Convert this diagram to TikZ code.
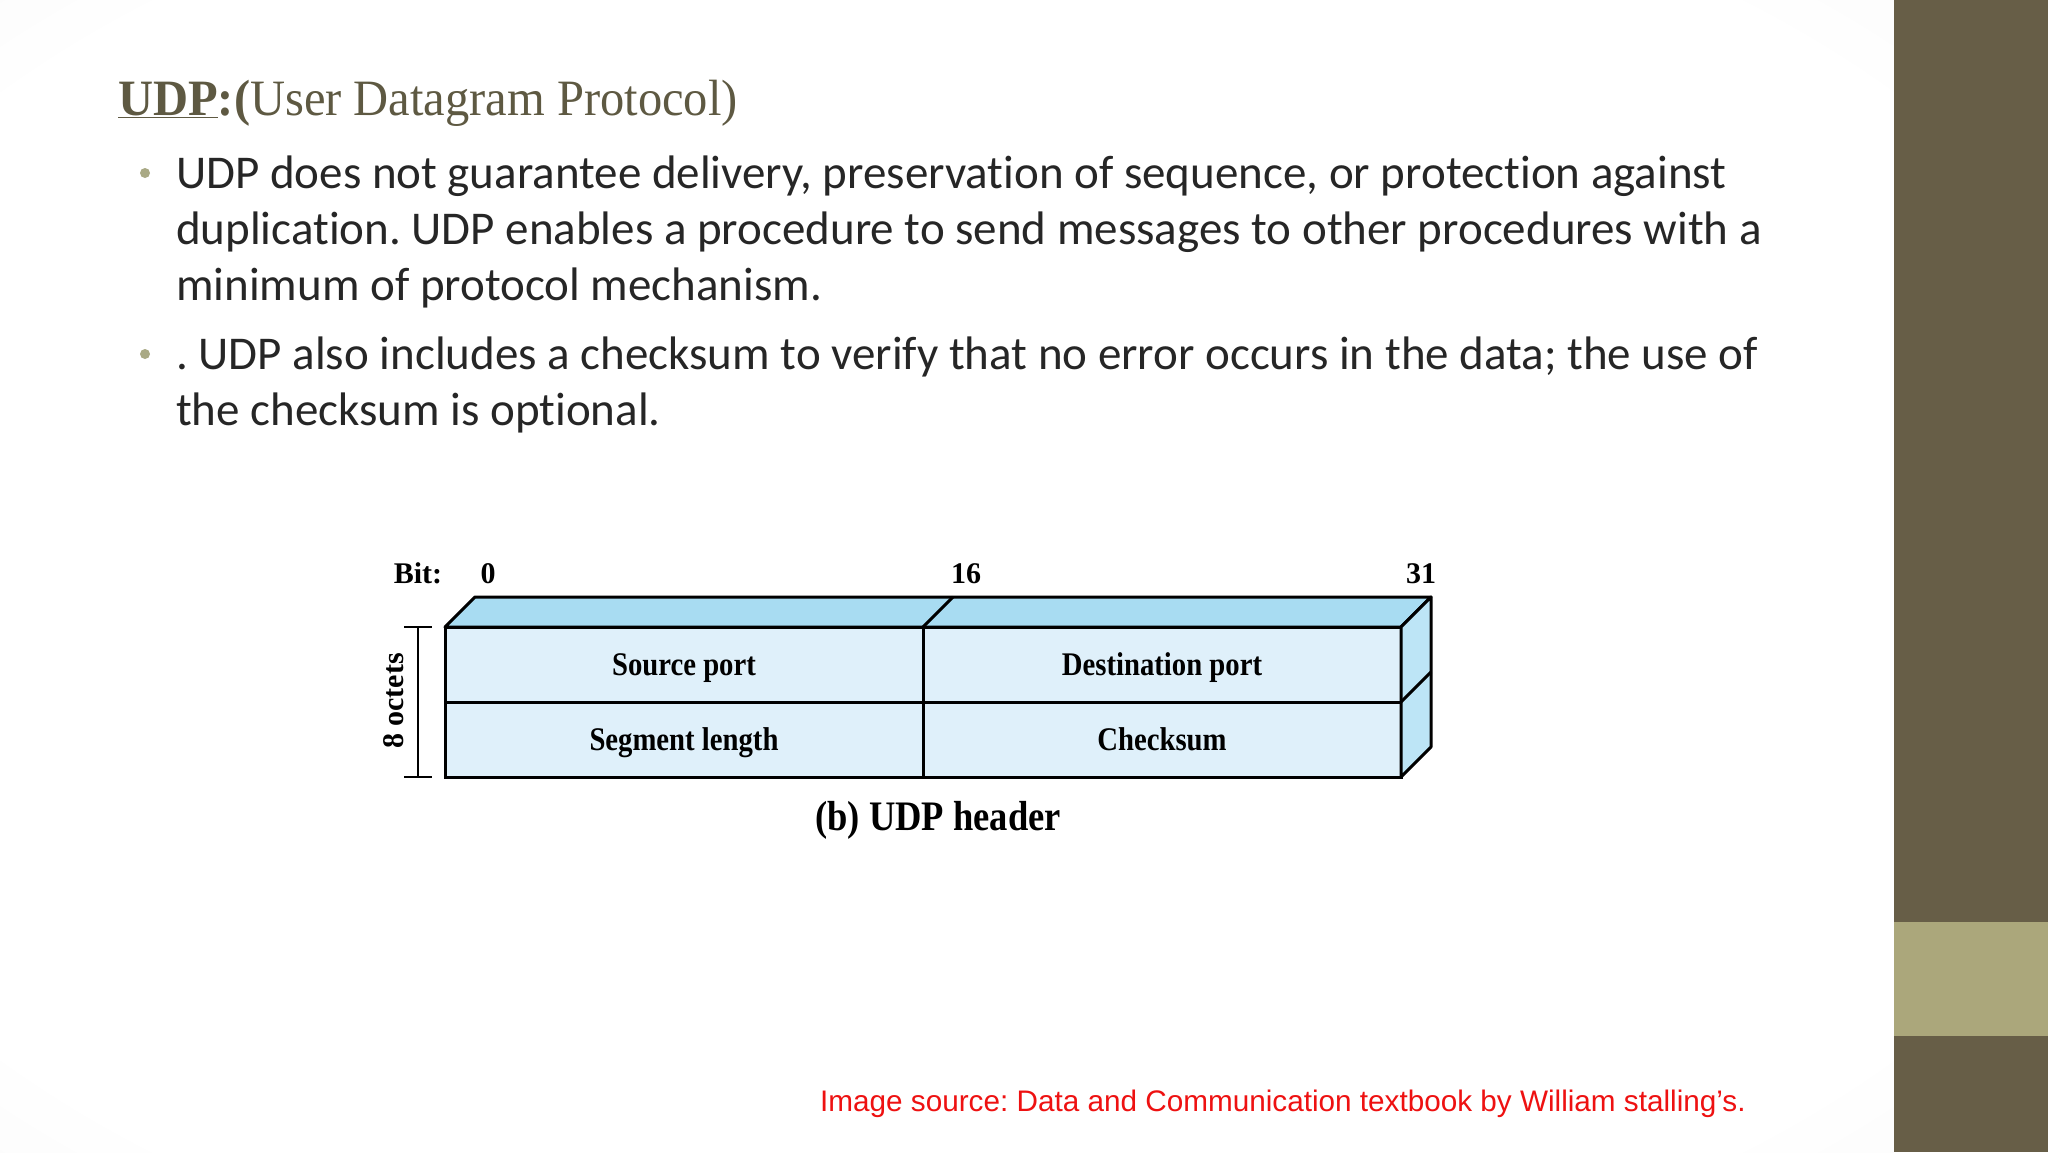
\documentclass[tikz,border=0pt]{standalone}
\usepackage{fontspec}
\setmainfont{Liberation Serif}
\newfontfamily\bodyfont[Ligatures=NoCommon]{Carlito}
\newfontfamily\srcfont{Liberation Sans}
\usetikzlibrary{calc}
\definecolor{barDark}{HTML}{675E47}
\definecolor{barLight}{HTML}{ABA77B}
\definecolor{titleCol}{HTML}{5E5942}
\definecolor{bulletCol}{HTML}{A9A985}
\definecolor{textCol}{HTML}{262626}
\definecolor{frontBlue}{HTML}{DFF0FA}
\definecolor{topBlue}{HTML}{A8DCF2}
\definecolor{sideBlue}{HTML}{BDE5F6}
\definecolor{srcRed}{HTML}{EE1111}
\newcommand\cnd[1]{\scalebox{0.87}[1]{#1}}
\pgfdeclareradialshading{slidebg}{\pgfpoint{0bp}{0bp}}{color(0bp)=(white); color(32bp)=(white); color(72bp)=(black!12)}
\tikzset{
  cell/.style={draw=black, line width=3pt, fill=frontBlue, outer sep=0pt, inner sep=0pt,
    minimum width=478pt, minimum height=75pt, text height=26pt, text depth=4pt,
    font=\fontsize{33}{38}\selectfont\bfseries, anchor=north west},
  face/.style={draw=black, line width=3pt, line join=round},
  bitlabel/.style={font=\fontsize{30}{34}\selectfont\bfseries, inner sep=0pt, anchor=base},
  bodytext/.style={font=\bodyfont\fontsize{47}{56}\selectfont, text=textCol, anchor=base west, inner sep=0pt},
  bulletdot/.style={circle, fill=bulletCol, inner sep=0pt, minimum size=10pt},
}
\begin{document}
\frenchspacing
\begin{tikzpicture}[x=1pt,y=-1pt]
\useasboundingbox (0,0) rectangle (2048,1152);
\shade[shading=slidebg] (0,0) rectangle (1894,1152);
\fill[barDark] (1894,0) rectangle (2048,1152);
\fill[barLight] (1894,922) rectangle (2048,1036);

% title
\node[anchor=base west, inner sep=0pt, text=titleCol] (title) at (118,115)
  {\scalebox{0.99}[1.04]{\fontsize{49}{54}\selectfont\textbf{\underline{UDP}:(}User Datagram Protocol)}};

% bullets
\node[bulletdot] (b1) at (145,173) {};
\node[bodytext] (t1a) at (176,188) {UDP does not guarantee delivery, preservation of sequence, or protection against};
\node[bodytext] (t1b) at (176,244) {duplication. UDP enables a procedure to send messages to other procedures with a};
\node[bodytext] (t1c) at (176,300) {minimum of protocol mechanism.};
\node[bulletdot] (b2) at (145,354) {};
\node[bodytext] (t2a) at (176,369) {. UDP also includes a checksum to verify that no error occurs in the data; the use of};
\node[bodytext] (t2b) at (176,425) {the checksum is optional.};

% header diagram
\node[cell] (sp) at (445,627) {\cnd{Source port}};
\node[cell] (dp) at (sp.north east) {\cnd{Destination port}};
\node[cell] (sl) at (sp.south west) {\cnd{Segment length}};
\node[cell] (ck) at (sl.north east) {\cnd{Checksum}};

\draw[face, fill=topBlue] (sp.north west) -- ++(30,-30) -- ($(dp.north east)+(30,-30)$) -- (dp.north east) -- cycle;
\draw[face] (sp.north east) -- ++(30,-30);
\draw[face, fill=sideBlue] (dp.north east) -- ++(30,-30) -- ($(ck.south east)+(30,-30)$) -- (ck.south east) -- cycle;
\draw[face] (dp.south east) -- ++(30,-30);

\node[bitlabel] (bit) at (418,583) {Bit:};
\node[bitlabel] (b0) at (488,583) {0};
\node[bitlabel] (b16) at (966,583) {16};
\node[bitlabel] (b31) at (1421,583) {31};

\coordinate (brt) at (418,627);
\coordinate (brb) at (418,777);
\draw[line width=1.5pt] ($(brt)+(-14,0)$) -- ($(brt)+(14,0)$) (brt) -- (brb) ($(brb)+(-14,0)$) -- ($(brb)+(14,0)$);
\node[font=\fontsize{30}{34}\selectfont\bfseries, inner sep=0pt, rotate=90] (oct) at (394,701) {8 octets};

\node[font=\fontsize{42}{46}\selectfont\bfseries, inner sep=0pt, anchor=base] (cap) at (938,830) {\cnd{(b) UDP header}};

\node[font=\srcfont\fontsize{29.7}{34}\selectfont, text=srcRed, anchor=west, inner sep=0pt] (src) at (820,1104)
  {Image source: Data and Communication textbook by William stalling’s.};
\end{tikzpicture}
\end{document}
